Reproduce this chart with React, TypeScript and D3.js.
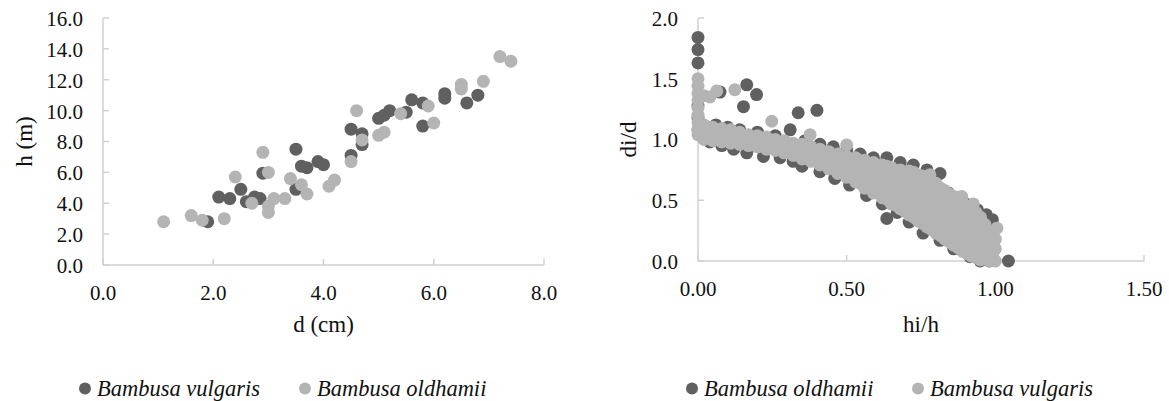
import React from 'react';
import * as d3 from 'd3';

// left panel: height vs diameter
const leftXTicks = [0, 2, 4, 6, 8];
const leftYTicks = [0, 2, 4, 6, 8, 10, 12, 14, 16];
const leftVulgaris: [number, number][] = [
  [1.9, 2.8], [2.1, 4.4], [2.3, 4.3], [2.5, 4.9], [2.6, 4.1], [2.75, 4.4], [2.85, 4.3],
  [2.9, 5.95], [3.5, 4.9], [3.5, 7.5], [3.6, 6.4], [3.7, 6.3], [3.9, 6.7], [4.0, 6.5],
  [4.5, 7.1], [4.5, 8.8], [4.7, 8.5], [4.7, 7.8], [5.0, 9.5], [5.1, 9.7], [5.2, 10.0],
  [5.5, 9.9], [5.6, 10.7], [5.8, 10.5], [5.8, 9.0], [6.2, 11.1], [6.2, 10.8], [6.6, 10.5],
  [6.8, 11.0],
];
const leftOldhamii: [number, number][] = [
  [1.1, 2.8], [1.6, 3.2], [1.8, 2.9], [2.2, 3.0], [2.4, 5.7], [2.7, 4.0], [2.9, 7.3],
  [3.0, 6.0], [3.0, 3.4], [3.0, 3.8], [3.1, 4.3], [3.3, 4.3], [3.4, 5.6], [3.6, 5.2],
  [3.7, 4.6], [4.1, 5.1], [4.2, 5.5], [4.5, 6.7], [4.6, 10.0], [4.7, 8.1], [5.0, 8.4],
  [5.1, 8.6], [5.4, 9.8], [5.9, 10.3], [6.0, 9.2], [6.5, 11.7], [6.5, 11.4], [6.9, 11.9],
  [7.2, 13.5], [7.4, 13.2],
];

// right panel: taper di/d vs hi/h
const rightXTicks = [0, 0.5, 1, 1.5];
const rightYTicks = [0, 0.5, 1, 1.5, 2];
const rightOldhamii: [number, number][] = [
  [0, 1.84], [0, 1.74], [0, 1.63], [0, 1.28], [0, 1.18], [0, 1.08],
  [0.074, 1.39], [0.153, 1.27], [0.164, 1.45], [0.197, 1.37], [0.337, 1.22], [0.4, 1.24],
  [0.03, 1.1], [0.06, 1.12], [0.1, 1.1], [0.14, 1.08], [0.2, 1.06], [0.26, 1.03], [0.31, 1.08],
  [0.36, 0.99], [0.41, 0.96], [0.455, 0.94], [0.5, 0.91], [0.545, 0.88], [0.59, 0.85],
  [0.635, 0.85], [0.68, 0.81], [0.724, 0.79], [0.77, 0.75], [0.814, 0.72], [0.842, 0.56],
  [0.87, 0.52], [0.9, 0.47], [0.94, 0.42], [0.97, 0.38], [0.99, 0.34],
  [0.04, 0.98], [0.08, 0.95], [0.12, 0.92], [0.164, 0.89], [0.22, 0.86], [0.276, 0.85],
  [0.32, 0.82], [0.35, 0.78], [0.41, 0.735], [0.46, 0.68], [0.51, 0.625], [0.567, 0.54],
  [0.62, 0.47], [0.635, 0.35], [0.67, 0.4], [0.71, 0.32], [0.757, 0.23], [0.814, 0.17],
  [0.86, 0.1], [0.915, 0.035], [0.949, 0.0], [0.98, 0.0], [1.044, 0.0],
  [0.3, 0.93], [0.45, 0.82], [0.6, 0.68], [0.7, 0.55], [0.8, 0.4], [0.9, 0.25], [0.96, 0.15],
];
const rightVulgaris: [number, number][] = [
  [0, 1.5], [0, 1.44], [0, 1.38], [0, 1.32], [0, 1.26], [0, 1.2], [0, 1.14], [0, 1.08], [0, 1.04],
  [0.02, 1.0], [0.02, 1.06], [0.02, 1.12], [0.02, 1.36], [0.04, 1.35], [0.063, 1.4], [0.124, 1.41],
  [0.05, 0.99], [0.05, 1.05], [0.05, 1.1],
  [0.08, 0.98], [0.08, 1.04], [0.08, 1.09],
  [0.11, 0.97], [0.11, 1.03], [0.11, 1.08],
  [0.14, 0.96], [0.14, 1.02], [0.14, 1.06],
  [0.17, 0.95], [0.17, 1.0], [0.17, 1.04],
  [0.2, 0.94], [0.2, 0.99], [0.2, 1.03],
  [0.23, 0.92], [0.23, 0.97], [0.23, 1.02], [0.248, 1.15],
  [0.26, 0.91], [0.26, 0.96], [0.26, 1.0],
  [0.29, 0.89], [0.29, 0.94], [0.29, 0.99],
  [0.32, 0.87], [0.32, 0.92], [0.32, 0.97],
  [0.35, 0.84], [0.35, 0.9], [0.35, 0.96], [0.377, 1.04],
  [0.38, 0.82], [0.38, 0.88], [0.38, 0.94],
  [0.41, 0.79], [0.41, 0.85], [0.41, 0.92],
  [0.44, 0.76], [0.44, 0.83], [0.44, 0.9],
  [0.47, 0.72], [0.47, 0.8], [0.47, 0.88],
  [0.5, 0.69], [0.5, 0.77], [0.5, 0.86], [0.5, 0.955],
  [0.53, 0.65], [0.53, 0.73], [0.53, 0.8], [0.53, 0.85],
  [0.545, 0.64], [0.545, 0.72], [0.545, 0.8],
  [0.56, 0.6], [0.56, 0.68], [0.56, 0.76], [0.56, 0.83],
  [0.575, 0.6], [0.575, 0.68], [0.575, 0.76],
  [0.59, 0.56], [0.59, 0.64], [0.59, 0.72], [0.59, 0.81],
  [0.605, 0.56], [0.605, 0.64], [0.605, 0.73],
  [0.62, 0.52], [0.62, 0.6], [0.62, 0.69], [0.62, 0.79],
  [0.635, 0.51], [0.635, 0.6], [0.635, 0.7], [0.635, 0.78],
  [0.65, 0.47], [0.65, 0.56], [0.65, 0.66], [0.65, 0.77],
  [0.665, 0.46], [0.665, 0.55], [0.665, 0.64], [0.665, 0.73],
  [0.68, 0.43], [0.68, 0.52], [0.68, 0.62], [0.68, 0.75],
  [0.695, 0.41], [0.695, 0.5], [0.695, 0.6], [0.695, 0.7],
  [0.71, 0.38], [0.71, 0.47], [0.71, 0.57], [0.71, 0.66], [0.71, 0.74],
  [0.725, 0.36], [0.725, 0.45], [0.725, 0.55], [0.725, 0.65], [0.725, 0.73],
  [0.74, 0.33], [0.74, 0.42], [0.74, 0.52], [0.74, 0.62], [0.74, 0.71],
  [0.755, 0.31], [0.755, 0.4], [0.755, 0.5], [0.755, 0.6], [0.755, 0.7],
  [0.77, 0.28], [0.77, 0.37], [0.77, 0.47], [0.77, 0.57], [0.77, 0.68], [0.78, 0.71],
  [0.785, 0.26], [0.785, 0.35], [0.785, 0.45], [0.785, 0.55], [0.785, 0.64],
  [0.8, 0.23], [0.8, 0.32], [0.8, 0.42], [0.8, 0.52], [0.8, 0.64],
  [0.815, 0.21], [0.815, 0.3], [0.815, 0.4], [0.815, 0.5], [0.815, 0.6],
  [0.83, 0.18], [0.83, 0.27], [0.83, 0.37], [0.83, 0.47], [0.83, 0.58],
  [0.845, 0.16], [0.845, 0.25], [0.845, 0.35], [0.845, 0.45], [0.845, 0.55],
  [0.86, 0.13], [0.86, 0.22], [0.86, 0.32], [0.86, 0.42], [0.86, 0.53],
  [0.875, 0.11], [0.875, 0.2], [0.875, 0.3], [0.875, 0.4], [0.875, 0.5], [0.887, 0.53],
  [0.89, 0.08], [0.89, 0.17], [0.89, 0.27], [0.89, 0.37], [0.89, 0.48],
  [0.905, 0.06], [0.905, 0.15], [0.905, 0.25], [0.905, 0.35], [0.905, 0.45],
  [0.92, 0.04], [0.92, 0.12], [0.92, 0.22], [0.92, 0.32], [0.92, 0.45], [0.926, 0.47],
  [0.935, 0.03], [0.935, 0.11], [0.935, 0.2], [0.935, 0.3], [0.935, 0.4],
  [0.95, 0.01], [0.95, 0.09], [0.95, 0.18], [0.95, 0.28], [0.95, 0.36],
  [0.965, 0.02], [0.965, 0.1], [0.965, 0.2], [0.965, 0.3],
  [0.98, 0.0], [0.98, 0.08], [0.98, 0.16], [0.98, 0.24],
  [0.99, 0.05], [0.99, 0.14], [0.99, 0.22],
  [1.0, 0.0], [1.0, 0.1], [1.0, 0.18], [1.005, 0.27],
];

const DARK = '#606060';
const LIGHT = '#b4b4b4';
const AXIS = '#d0d0d0';
const FONT = "'Liberation Serif', 'Times New Roman', 'DejaVu Serif', serif";

type PanelProps = {
  x: d3.ScaleLinear<number, number>;
  y: d3.ScaleLinear<number, number>;
  xTicks: number[];
  yTicks: number[];
  xFmt: (n: number) => string;
  yFmt: (n: number) => string;
  xTitle: string;
  yTitle: string;
  yTitleX: number;
  series: { data: [number, number][]; color: string }[];
};

const Panel = ({ x, y, xTicks, yTicks, xFmt, yFmt, xTitle, yTitle, yTitleX, series }: PanelProps) => {
  const [x0, x1] = x.range();
  const [y0, y1] = y.range();
  return (
    <g fill="#111">
      <line x1={x0} x2={x0} y1={y0} y2={y1} stroke={AXIS} strokeWidth={1.5} />
      <line x1={x0} x2={x1} y1={y0} y2={y0} stroke={AXIS} strokeWidth={1.5} />
      {yTicks.map(t => (
        <g key={'y' + t}>
          <line x1={x0} x2={x0 + 6} y1={y(t)} y2={y(t)} stroke={AXIS} strokeWidth={1.5} />
          <text x={x0 - 20} y={y(t)} dy="0.38em" textAnchor="end" style={{ fontSize: 21 }}>{yFmt(t)}</text>
        </g>
      ))}
      {xTicks.map(t => (
        <g key={'x' + t}>
          <line x1={x(t)} x2={x(t)} y1={y0} y2={y0 - 6} stroke={AXIS} strokeWidth={1.5} />
          <text x={x(t)} y={y0 + 35} textAnchor="middle" style={{ fontSize: 21 }}>{xFmt(t)}</text>
        </g>
      ))}
      <text x={(x0 + x1) / 2} y={332} textAnchor="middle" style={{ fontSize: 23 }}>{xTitle}</text>
      <text transform={`translate(${yTitleX},${(y0 + y1) / 2}) rotate(-90)`} textAnchor="middle" style={{ fontSize: 23 }}>{yTitle}</text>
      {series.map((s, i) => (
        <g key={i} fill={s.color}>
          {s.data.map((d, j) => (
            <circle key={j} cx={x(d[0])} cy={y(d[1])} r={6.5} />
          ))}
        </g>
      ))}
    </g>
  );
};

const Legend = ({ x, items }: { x: number[]; items: { label: string; color: string }[] }) => (
  <g fill="#111">
    {items.map((it, i) => (
      <g key={i}>
        <circle cx={x[i]} cy={388.5} r={6} fill={it.color} />
        <text x={x[i] + 12} y={396} style={{ fontSize: 22.5, fontStyle: 'italic' }}>{it.label}</text>
      </g>
    ))}
  </g>
);

export default function App() {
  const lx = d3.scaleLinear().domain([0, 8]).range([103, 544]);
  const ly = d3.scaleLinear().domain([0, 16]).range([265, 18]);
  const rx = d3.scaleLinear().domain([0, 1.5]).range([698, 1144]);
  const ry = d3.scaleLinear().domain([0, 2]).range([261, 18]);
  const f1 = d3.format('.1f');
  const f2 = d3.format('.2f');

  return (
    <svg width={1169} height={401} style={{ position: 'absolute', left: 0, top: 0, background: '#fff', fontFamily: FONT }}>
      <Panel
        x={lx} y={ly} xTicks={leftXTicks} yTicks={leftYTicks} xFmt={f1} yFmt={f1}
        xTitle="d (cm)" yTitle="h (m)" yTitleX={32}
        series={[{ data: leftVulgaris, color: DARK }, { data: leftOldhamii, color: LIGHT }]}
      />
      <Panel
        x={rx} y={ry} xTicks={rightXTicks} yTicks={rightYTicks} xFmt={f2} yFmt={f1}
        xTitle="hi/h" yTitle="di/d" yTitleX={636}
        series={[{ data: rightOldhamii, color: DARK }, { data: rightVulgaris, color: LIGHT }]}
      />
      <Legend x={[85, 305]} items={[{ label: 'Bambusa vulgaris', color: DARK }, { label: 'Bambusa oldhamii', color: LIGHT }]} />
      <Legend x={[692, 918]} items={[{ label: 'Bambusa oldhamii', color: DARK }, { label: 'Bambusa vulgaris', color: LIGHT }]} />
    </svg>
  );
}
